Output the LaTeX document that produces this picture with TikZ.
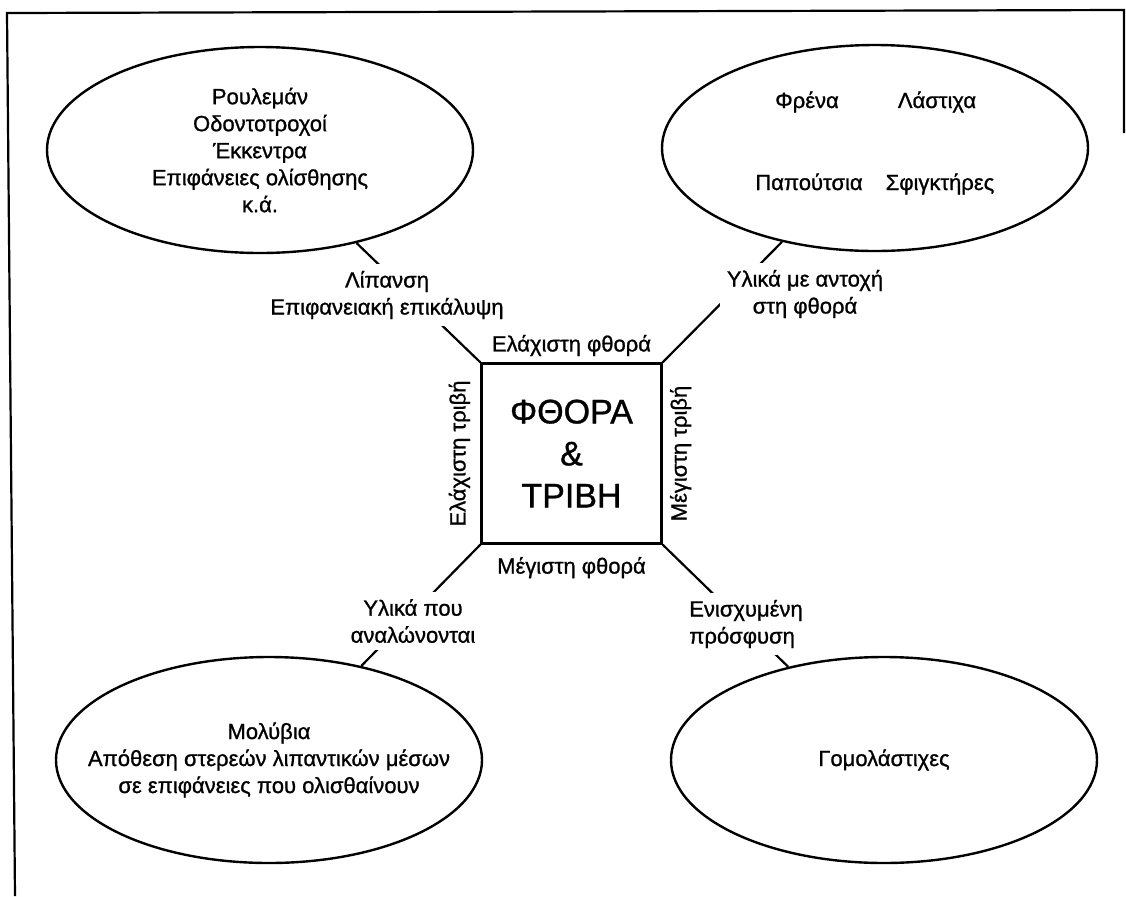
\documentclass[tikz,border=0pt]{standalone}
\usepackage{fontspec}
\setmainfont[FakeBold=1]{Liberation Sans}
\usetikzlibrary{shapes.geometric}

\begin{document}
\begin{tikzpicture}[x=0.5pt,y=-0.5pt,
        oval/.style={draw,ellipse,line width=1.2pt,minimum width=213pt,minimum height=103pt,inner sep=0pt},
        txt/.style={align=center,font=\fontsize{11}{13.5}\selectfont,inner sep=0pt},
        lbl/.style={txt,fill=white,inner sep=3.5pt},
        wire/.style={line width=1.1pt}]
        \useasboundingbox (0,0) rectangle (1126,896);
        %% Frame
        \draw[wire] (15,896) -- (7,13) -- (1124,10) -- (1124,133);
        %% Ovals
        \node[oval] (tl) at (260,150) {};
        \node[oval] (tr) at (875,148) {};
        \node[oval] (bl) at (269,760) {};
        \node[oval] (br) at (884,760) {};
        \node[txt] (tlt) at (tl) {Ρουλεμάν\\Οδοντοτροχοί\\Έκκεντρα\\Επιφάνειες ολίσθησης\\κ.ά.};
        \node[txt,anchor=base] (fre) at (807,108) {Φρένα};
        \node[txt,anchor=base] (las) at (937,108) {Λάστιχα};
        \node[txt,anchor=base] (pap) at (809,190) {Παπούτσια};
        \node[txt,anchor=base] (sfi) at (940,190) {Σφιγκτήρες};
        \node[txt] (blt) at (bl) {Μολύβια\\Απόθεση στερεών λιπαντικών μέσων\\σε επιφάνειες που ολισθαίνουν};
        \node[txt] (brt) at (br) {Γομολάστιχες};
        %% Square
        \node[draw,line width=1.1pt,minimum size=90pt,align=center,font=\fontsize{17}{21}\selectfont] (sq) at (571.5,453.5) {ΦΘΟΡΑ\\\&\\ΤΡΙΒΗ};
        \node[txt,anchor=south] (fmin) at ([yshift=3pt]sq.north) {Ελάχιστη φθορά};
        \node[txt,anchor=north] (fmax) at ([yshift=-6pt]sq.south) {Μέγιστη φθορά};
        \node[txt,rotate=90,anchor=south] (tmin) at ([xshift=-5pt]sq.west) {Ελάχιστη τριβή};
        \node[txt,rotate=90,anchor=north] (tmax) at ([xshift=3.5pt]sq.east) {Μέγιστη τριβή};
        %% Wires
        \foreach \o/\c in {tl/north west,tr/north east,bl/south west,br/south east}
            \draw[wire] (\o) -- (sq.\c);
        %% Labels
        \node[lbl] (lip) at (387,295) {Λίπανση\\Επιφανειακή επικάλυψη};
        \node[lbl] (ant) at (805,294) {Υλικά με αντοχή\\στη φθορά};
        \node[lbl] (ana) at (413,621) {Υλικά που\\αναλώνονται};
        \node[lbl,align=left] (pro) at (746,624) {Ενισχυμένη\\πρόσφυση};
    \end{tikzpicture}
\end{document}
